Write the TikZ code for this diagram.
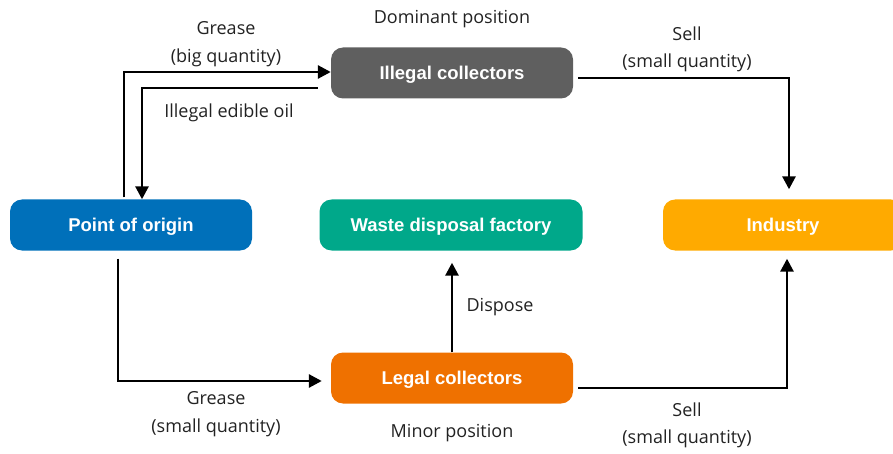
\documentclass[tikz,border=0pt]{standalone}
\usepackage{fontspec}
\setmainfont{Open Sans}
\newfontfamily\nodefont{Liberation Sans}
\usetikzlibrary{arrows.meta}
\definecolor{cgray}{HTML}{5F5F5F}
\definecolor{cblue}{HTML}{0070BA}
\definecolor{cteal}{HTML}{00A88A}
\definecolor{cyel}{HTML}{FFAA00}
\definecolor{corg}{HTML}{EF7100}
\definecolor{ctxt}{HTML}{222222}
\begin{document}
\begin{tikzpicture}[x=1pt,y=-1pt,
  box/.style={rounded corners=12pt, minimum width=242pt, minimum height=51pt, inner sep=0pt,
    text height=13.4pt, text depth=0pt,
    text=white, font=\nodefont\bfseries\fontsize{18.5}{22}\selectfont},
  lbl/.style={text=ctxt, font=\fontsize{18}{21}\selectfont, inner sep=0pt},
  arr/.style={line width=2.8pt, -{Triangle[length=13pt,width=13pt]}}]
\clip (0,0) rectangle (893,454);
\useasboundingbox (0,0) rectangle (893,454);
\node[box, fill=cgray] (ill) at (452,73) {Illegal collectors};
\node[box, fill=cblue] (poo) at (131,225) {Point of origin};
\node[box, fill=cteal, minimum width=263pt] (wdf) at (451,225) {Waste disposal factory};
\node[box, fill=cyel, minimum width=240pt] (ind) at (783,225) {Industry};
\node[box, fill=corg] (leg) at (452,378) {Legal collectors};

\draw[arr] ([yshift=2pt]poo.north -| 124,0) |- ([yshift=1pt]ill.west);
\draw[arr] ([xshift=-13pt,yshift=-15pt]ill.west) -| (poo.north -| 142,0);
\draw[arr] ([xshift=5pt,yshift=-5pt]ill.east) -| ([yshift=10pt]ind.north -| 789,0);
\draw[arr] ([yshift=-8pt]poo.south -| 118,0) |- ([xshift=-9pt,yshift=-3pt]leg.west);
\draw[arr] (leg.north) -- ([yshift=-12pt]wdf.south -| leg.north);
\draw[arr] ([xshift=5pt,yshift=-10pt]leg.east) -| ([yshift=-8pt]ind.south -| 787,0);

\node[lbl] (l1) at (226,28) {Grease};
\node[lbl] (l2) at (226,58) {(big quantity)};
\node[lbl] (l3) at (452,19) {Dominant position};
\node[lbl] (l4) at (229,113) {Illegal edible oil};
\node[lbl] (l5) at (687,34) {Sell};
\node[lbl] (l6) at (687,63) {(small quantity)};
\node[lbl] (l7) at (500,307) {Dispose};
\node[lbl] (l8) at (216,398) {Grease};
\node[lbl] (l9) at (216,428) {(small quantity)};
\node[lbl] (l10) at (452,433) {Minor position};
\node[lbl] (l11) at (687,410) {Sell};
\node[lbl] (l12) at (687,439) {(small quantity)};
\end{tikzpicture}
\end{document}
